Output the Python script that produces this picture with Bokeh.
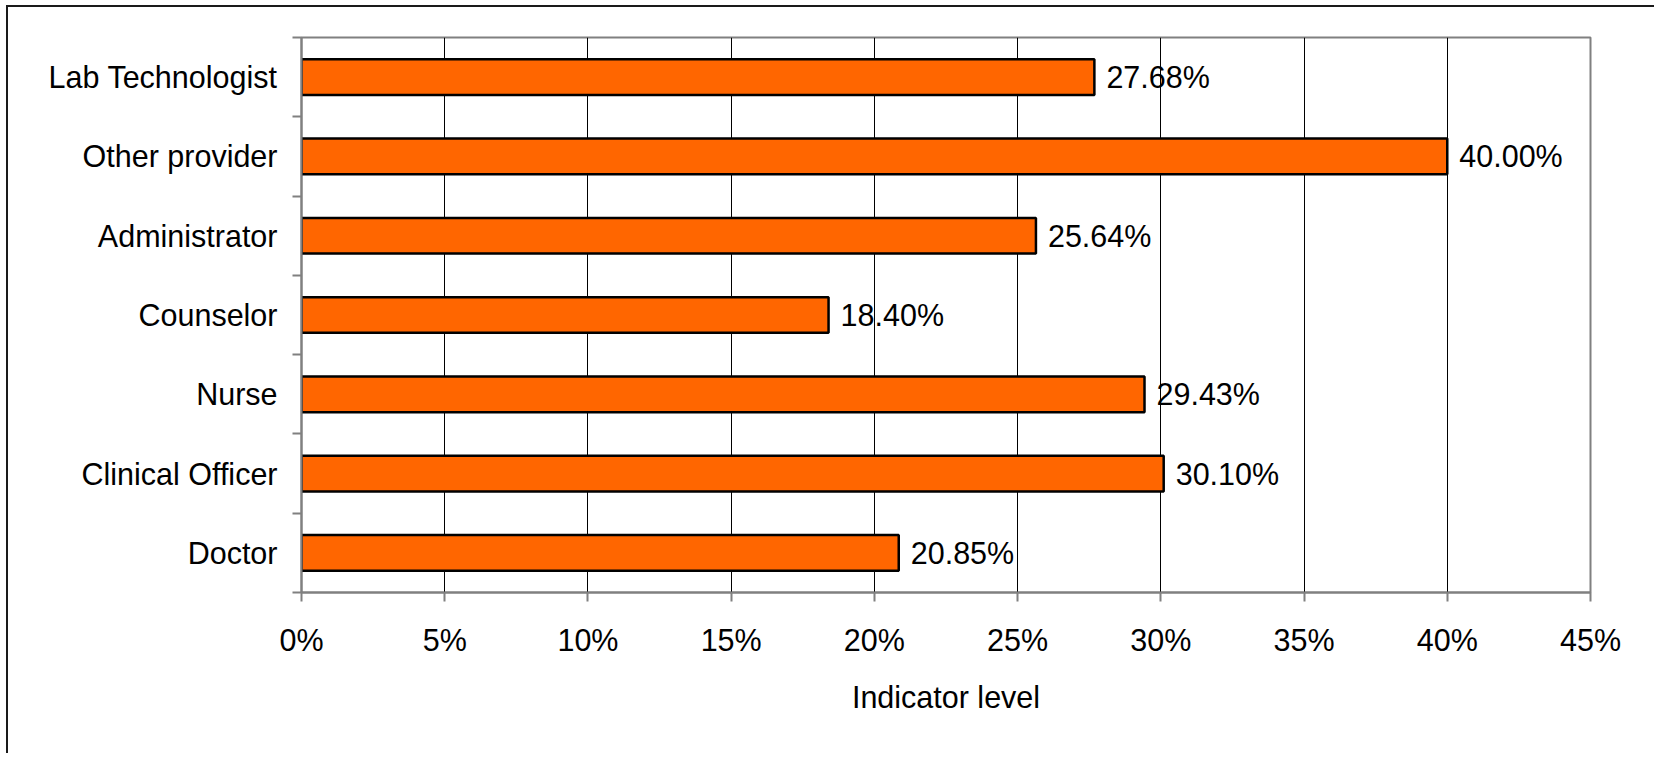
from bokeh.plotting import figure
from bokeh.models import FixedTicker, Range1d, ColumnDataSource
from bokeh.core.properties import value
from bokeh.embed import file_html
from bokeh.resources import INLINE

# Staff categories, bottom to top, and indicator level in percent
categories = ["Doctor", "Clinical Officer", "Nurse", "Counselor",
              "Administrator", "Other provider", "Lab Technologist"]
levels = [20.85, 30.10, 29.43, 18.40, 25.64, 40.00, 27.68]
x_ticks = [0, 5, 10, 15, 20, 25, 30, 35, 40, 45]
x_tick_labels = ["0%", "5%", "10%", "15%", "20%", "25%", "30%", "35%", "40%", "45%"]

FONT = "Liberation Sans"
FONT_SIZE = "30.5px"
ypos = [i + 0.5 for i in range(len(categories))]

src = ColumnDataSource(dict(
    y=ypos,
    level=levels,
    label=[f"{v:.2f}%" for v in levels],
))

p = figure(
    width=1646, height=751,
    output_backend="svg", toolbar_location=None,
    x_range=Range1d(0, 45), y_range=Range1d(0, len(categories)),
    min_border_left=293, min_border_top=30,
    min_border_right=64, min_border_bottom=161,
    frame_width=1289, frame_height=555,
    margin=(5, 0, 0, 6),
    styles={"border-left": "2px solid #1a1a1a", "border-top": "2px solid #1a1a1a"},
)

p.hbar(y="y", right="level", left=0, height=0.45, source=src,
       fill_color="#FF6600", line_color="black", line_width=2.5)

p.text(x="level", y="y", text="label", source=src, x_offset=12,
       text_baseline="middle", text_align="left",
       text_font=value(FONT), text_font_size=FONT_SIZE, text_color="black")

# x axis: percent ticks
p.xaxis.ticker = FixedTicker(ticks=x_ticks)
p.xaxis.major_label_overrides = {t: s for t, s in zip(x_ticks, x_tick_labels)}
p.xaxis.axis_label = "Indicator level"

# y axis: labels centred on bars, tick marks between categories
p.yaxis.ticker = FixedTicker(ticks=ypos, minor_ticks=list(range(len(categories) + 1)))
p.yaxis.major_label_overrides = {y: c for y, c in zip(ypos, categories)}
p.yaxis.major_tick_out = 0
p.yaxis.major_tick_in = 0
p.yaxis.minor_tick_out = 9
p.yaxis.minor_tick_in = 0
p.yaxis.minor_tick_line_color = "#808080"
p.yaxis.minor_tick_line_width = 2
p.yaxis.major_label_standoff = 15

for ax in (p.xaxis, p.yaxis):
    ax.axis_line_color = "#808080"
    ax.axis_line_width = 2
    ax.major_label_text_font = FONT
    ax.major_label_text_font_size = FONT_SIZE
    ax.major_label_text_color = "black"
    ax.axis_label_text_font = FONT
    ax.axis_label_text_font_size = FONT_SIZE
    ax.axis_label_text_font_style = "normal"
    ax.axis_label_text_color = "black"

p.xaxis.major_tick_out = 9
p.xaxis.major_tick_in = 0
p.xaxis.major_tick_line_color = "#808080"
p.xaxis.major_tick_line_width = 2
p.xaxis.minor_tick_line_color = None
p.xaxis.major_label_standoff = 21
p.xaxis.axis_label_standoff = 20

p.xgrid.ticker = FixedTicker(ticks=x_ticks[1:-1])
p.xgrid.grid_line_color = "black"
p.xgrid.grid_line_width = 1
p.ygrid.grid_line_color = None

p.outline_line_color = "#808080"
p.outline_line_width = 2
p.background_fill_color = "white"
p.border_fill_color = "white"

open("out.html", "w").write(file_html(p, INLINE))
